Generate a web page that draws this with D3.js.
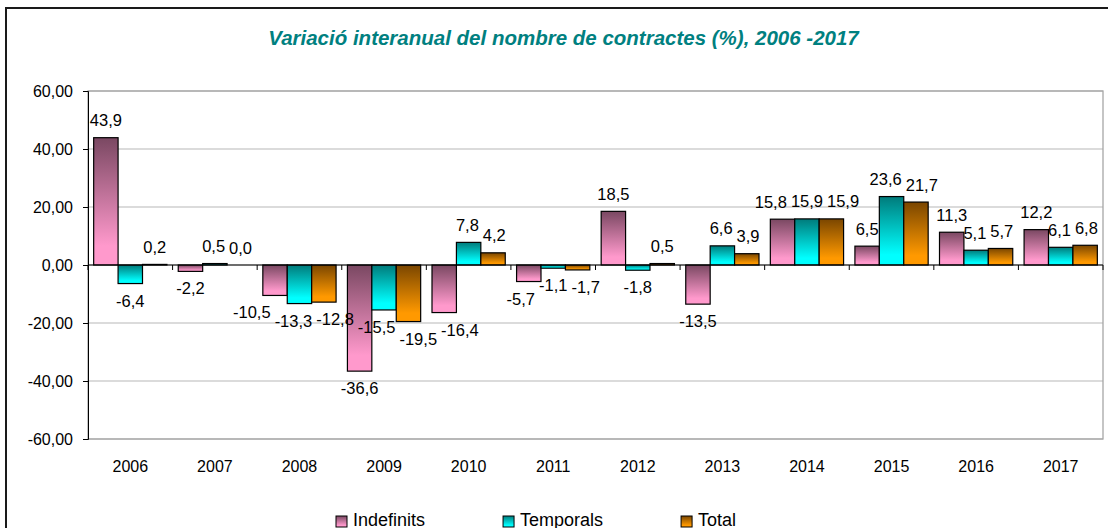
<!DOCTYPE html>
<html><head><meta charset="utf-8">
<script src="https://cdn.jsdelivr.net/npm/d3@7"></script>
<style>body{margin:0;background:#fff}svg{display:block;font-family:"Liberation Sans",Arial,sans-serif}</style>
</head><body><svg id="c" width="1108" height="528"></svg>
<script>
const title = "Variació interanual del nombre de contractes (%), 2006 -2017";
const years = ["2006","2007","2008","2009","2010","2011","2012","2013","2014","2015","2016","2017"];
const seriesNames = ["Indefinits","Temporals","Total"];
const indefinits = [43.9,-2.2,-10.5,-36.6,-16.4,-5.7,18.5,-13.5,15.8,6.5,11.3,12.2];
const temporals  = [-6.4,0.5,-13.3,-15.5,7.8,-1.1,-1.8,6.6,15.9,23.6,5.1,6.1];
const total      = [0.2,0.0,-12.8,-19.5,4.2,-1.7,0.5,3.9,15.9,21.7,5.7,6.8];
const yTicks = [-60,-40,-20,0,20,40,60];

const seriesValues = [indefinits, temporals, total];
const colors = [["#7a4862","#ff99cc"],["#007b7b","#00ffff"],["#7a4600","#ff9900"]];

const svg = d3.select("#c");
const loc = d3.formatLocale({decimal:",",thousands:".",grouping:[3],currency:["","€"],minus:"-"});
const fmtAxis = loc.format(".2f"), fmtLab = loc.format(".1f");

const L=88,R=1103,T=91,B=439;
const x0 = d3.scaleBand().domain(years).range([L,R]).paddingInner(0.134).paddingOuter(0.067);
const x1 = d3.scaleBand().domain(seriesNames).range([0,x0.bandwidth()]);
const y = d3.scaleLinear().domain([-60,60]).range([B,T]);

// gradients
const defs = svg.append("defs");
seriesNames.forEach((s,i)=>{
  const g = defs.append("linearGradient").attr("id","g"+i).attr("x1",0).attr("y1",0).attr("x2",0).attr("y2",1);
  g.append("stop").attr("offset","0%").attr("stop-color",colors[i][0]);
  g.append("stop").attr("offset","85%").attr("stop-color",colors[i][1]);
  g.append("stop").attr("offset","100%").attr("stop-color",colors[i][1]);
});

// outer border
svg.append("rect").attr("x",6).attr("y",8).attr("width",1200).attr("height",600)
  .attr("fill","none").attr("stroke","#1a1a1a").attr("stroke-width",2);

// title
svg.append("text").attr("x",563.5).attr("y",45).attr("text-anchor","middle")
  .attr("font-size",20.5).attr("font-weight","bold").attr("font-style","italic")
  .attr("fill","#008080").text(title);

// gridlines
svg.append("g").selectAll("line").data(yTicks).join("line")
  .attr("x1",L).attr("x2",R).attr("y1",d=>y(d)).attr("y2",d=>y(d))
  .attr("stroke","#b8b8b8").attr("stroke-width",1.2);
svg.append("rect").attr("x",L).attr("y",T).attr("width",R-L).attr("height",B-T)
  .attr("fill","none").attr("stroke","#a6a6a6").attr("stroke-width",1.3);

// y axis
const ya = svg.append("g").attr("transform",`translate(${L},0)`)
  .call(d3.axisLeft(y).tickValues(yTicks).tickFormat(fmtAxis).tickSizeOuter(0).tickSize(5).tickPadding(10));
ya.select(".domain").attr("stroke","#000");
ya.selectAll("text").attr("font-size",16).attr("fill","#000").attr("font-family","Liberation Sans, Arial, sans-serif");

// bars
const groups = svg.append("g").selectAll("g").data(years).join("g")
  .attr("transform",d=>`translate(${x0(d)},0)`);
groups.selectAll("rect").data((d,j)=>seriesNames.map((s,i)=>({s,i,v:seriesValues[i][j]}))).join("rect")
  .attr("x",d=>x1(d.s)).attr("width",x1.bandwidth())
  .attr("y",d=>y(Math.max(0,d.v))).attr("height",d=>Math.abs(y(d.v)-y(0)))
  .attr("fill",d=>`url(#g${d.i})`).attr("stroke","#000").attr("stroke-width",1.2);

// category axis at zero
const xa = svg.append("g").attr("transform",`translate(0,${y(0)})`);
xa.append("line").attr("x1",L).attr("x2",R).attr("stroke","#000").attr("stroke-width",1.2);
const bounds = years.map(d=>x0(d)-x0.step()*x0.paddingOuter()).concat([R]);
xa.selectAll("line.t").data(bounds).join("line").attr("class","t")
  .attr("x1",d=>d).attr("x2",d=>d).attr("y1",0).attr("y2",5).attr("stroke","#000");
svg.append("g").selectAll("text").data(years).join("text")
  .attr("x",d=>x0(d)+x0.bandwidth()/2).attr("y",472).attr("text-anchor","middle")
  .attr("font-size",16).text(d=>d);

// value labels with simple horizontal collision avoidance
const labG = svg.append("g");
const labs = [];
years.forEach((yr,j)=>seriesNames.forEach((s,i)=>{
  const v = seriesValues[i][j];
  labs.push({v, x: x0(yr)+x1(s)+x1.bandwidth()/2, y: v>=0? y(v)-11.5 : y(v)+23});
}));
const labSel = labG.selectAll("text").data(labs).join("text")
  .attr("text-anchor","middle").attr("font-size",16.5).attr("y",d=>d.y).text(d=>fmtLab(d.v));
labSel.each(function(d){ d.w = this.getComputedTextLength(); });
for (let it=0; it<40; it++){
  let moved=false;
  for (let a=0;a<labs.length;a++) for (let b=a+1;b<labs.length;b++){
    const p=labs[a], q=labs[b];
    if (Math.abs(p.y-q.y) >= 14) continue;
    const need = (p.w+q.w)/2 + 4;
    const dist = Math.abs(q.x-p.x);
    if (dist < need){
      const push=(need-dist)/2; const sgn = q.x>=p.x?1:-1;
      p.x -= sgn*push; q.x += sgn*push; moved=true;
    }
  }
  if(!moved) break;
}
labSel.attr("x",d=>d.x);

// legend
const lg = svg.append("g");
let lx = 336;
seriesNames.forEach((s,i)=>{
  lg.append("rect").attr("x",lx).attr("y",516).attr("width",11).attr("height",11)
    .attr("fill",`url(#g${i})`).attr("stroke","#000");
  const t = lg.append("text").attr("x",lx+17).attr("y",526).attr("font-size",18).text(s);
  lx += 17 + t.node().getComputedTextLength() + 78;
});
</script></body></html>
